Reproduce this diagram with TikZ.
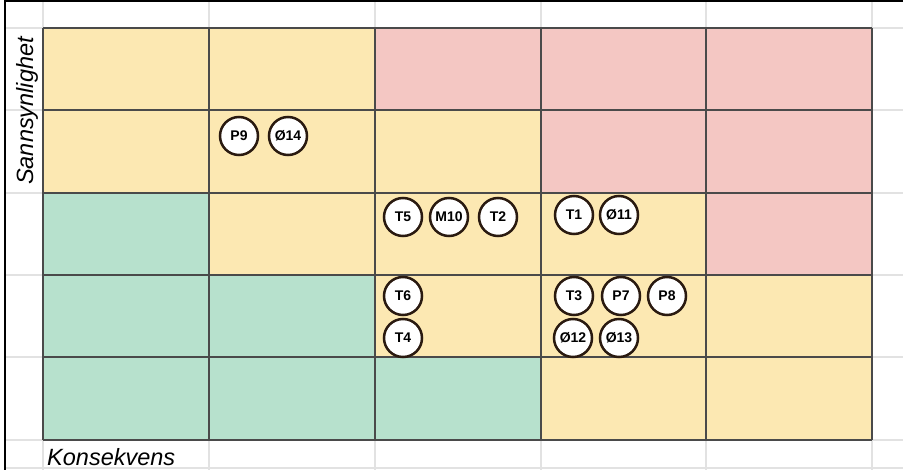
\documentclass[tikz,border=0pt]{standalone}
\usepackage{fontspec}
\setmainfont{Liberation Sans}
\begin{document}
\begin{tikzpicture}[x=1pt,y=-1pt,
  cellY/.style={fill=yel},
  cellR/.style={fill=red},
  cellG/.style={fill=grn},
  risk/.style={circle,draw=ring,line width=2.5pt,fill=white,minimum size=38pt,inner sep=0pt,
    font=\fontsize{14}{14}\selectfont\bfseries},
  axis/.style={font=\fontsize{23.5}{26}\selectfont\itshape,inner sep=0pt}]
\definecolor{yel}{HTML}{FCE8B2}
\definecolor{red}{HTML}{F4C7C3}
\definecolor{grn}{HTML}{B7E1CD}
\definecolor{gridc}{HTML}{E2E2E2}
\definecolor{ring}{HTML}{2A1A10}
\definecolor{cellline}{HTML}{4A4A4A}
\useasboundingbox (0,0) rectangle (903,470);
\fill[white] (0,0) rectangle (903,470);
% spreadsheet grid
\foreach \x in {43,209,375,541,706,872} \draw[gridc,line width=1.2pt] (\x,0) -- (\x,470);
\foreach \y in {28,110,193,275,357,440,468} \draw[gridc,line width=1.2pt] (5,\y) -- (903,\y);
% coloured cells
\def\cx{{43,209,375,541,706,872}}
\def\cy{{28,110,193,275,357,440}}
\foreach \r/\row in {0/{Y,Y,R,R,R},1/{Y,Y,Y,R,R},2/{G,Y,Y,Y,R},3/{G,G,Y,Y,Y},4/{G,G,G,Y,Y}}{
  \foreach \c [count=\i from 0] in \row {
    \pgfmathsetmacro\xa{\cx[\i]}\pgfmathsetmacro\xb{\cx[\i+1]}
    \pgfmathsetmacro\ya{\cy[\r]}\pgfmathsetmacro\yb{\cy[\r+1]}
    \path[cell\c] (\xa,\ya) rectangle (\xb,\yb);
  }
}
\foreach \x in {43,209,375,541,706,872} \draw[cellline,line width=1.1pt] (\x,28) -- (\x,440);
\foreach \y in {28,110,193,275,357,440} \draw[cellline,line width=1.1pt] (43,\y) -- (872,\y);
% outer border
\draw[black,line width=2pt] (5,471) -- (5,1.5) -- (904,1.5);
% axis labels
\node[axis,rotate=90,anchor=base west] (ylab) at (33,185) {Sannsynlighet};
\node[axis,anchor=base west] (xlab) at (47,465) {Konsekvens};
% risk items
\node[risk] (p9) at (239,136) {P9};
\node[risk] (o14) at (288,136) {Ø14};
\node[risk] (t5) at (403,217) {T5};
\node[risk] (m10) at (449,217) {M10};
\node[risk] (t2) at (498,217) {T2};
\node[risk] (t1) at (574,215) {T1};
\node[risk] (o11) at (619,215) {Ø11};
\node[risk] (t6) at (403,296) {T6};
\node[risk] (t4) at (403,338) {T4};
\node[risk] (t3) at (574,296) {T3};
\node[risk] (p7) at (621,296) {P7};
\node[risk] (p8) at (667,296) {P8};
\node[risk] (o12) at (573,338) {Ø12};
\node[risk] (o13) at (619,338) {Ø13};
\end{tikzpicture}
\end{document}
